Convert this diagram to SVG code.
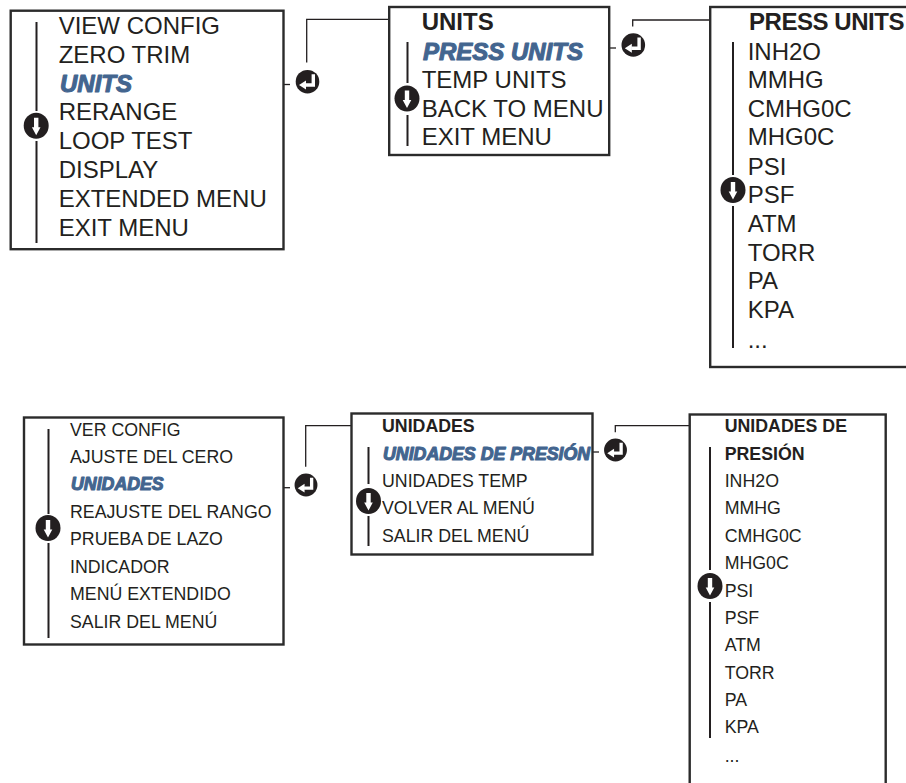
<svg xmlns="http://www.w3.org/2000/svg" width="906" height="783" viewBox="0 0 906 783">
<style>
text{font-family:"Liberation Sans",Arial,sans-serif;fill:#231f20}
.l{font-size:24px}
.s{font-size:17.75px}
.b{font-weight:bold}
.h{font-weight:bold;font-style:italic;fill:#43658f;stroke:#43658f;stroke-width:1.1px;stroke-linejoin:round}
.box{fill:#fff;stroke:#2b2b2b;stroke-width:2.4}
.ln{fill:none;stroke:#231f20;stroke-width:1.3}
.bar{fill:none;stroke:#231f20;stroke-width:2}
</style>
<defs>
<g id="enter"><circle r="11.8" fill="#231f20"/><path d="M5.800 -7.500V3.300H-2" fill="none" stroke="#fff" stroke-width="3.400"/><path d="M-8.500 3.300L-1.500 -1.200V7.800Z" fill="#fff"/></g>
<g id="down"><ellipse rx="12.500" ry="13" fill="#231f20"/><path d="M-2.200 -8H2.200V1.500H4.300L0 9.500L-4.300 1.500H-2.200Z" fill="#fff"/></g>
</defs>
<g id="connectors">
<path class="ln" d="M284 84.500H290"/><path class="ln" d="M306.700 62.500V19.400H389"/>
<path class="ln" d="M610 48H616"/><path class="ln" d="M632.700 26.500V20H710"/>
<path class="ln" d="M284 487.700H290"/><path class="ln" d="M305.700 466.700V425.700H351"/>
<path class="ln" d="M593 452H599"/><path class="ln" d="M615.300 432.300V425.700H690"/>
</g>
<g id="node-main-en">
<rect class="box" x="10.700" y="10.700" width="272.800" height="238.500"/>
<path class="bar" d="M36.500 22V111M36.500 141V243"/>
<use href="#down" x="36.200" y="125.700"/>
<text class="l" x="58.700" y="34">VIEW CONFIG</text>
<text class="l" x="58.700" y="63">ZERO TRIM</text>
<text class="l h" x="60" y="92">UNITS</text>
<text class="l" x="58.700" y="120">RERANGE</text>
<text class="l" x="58.700" y="149">LOOP TEST</text>
<text class="l" x="58.700" y="178">DISPLAY</text>
<text class="l" x="58.700" y="207">EXTENDED MENU</text>
<text class="l" x="58.700" y="236">EXIT MENU</text>
</g>
<g id="enter-1"><use href="#enter" x="307.500" y="81.700"/></g>
<g id="node-units-en">
<rect class="box" x="389.200" y="7" width="220" height="148"/>
<path class="bar" d="M407.500 42V83M407.500 115V146"/>
<use href="#down" x="407" y="98.500"/>
<text class="l b" x="421.700" y="30">UNITS</text>
<text class="l h" x="423" y="60">PRESS UNITS</text>
<text class="l" x="421.700" y="88">TEMP UNITS</text>
<text class="l" x="421.700" y="117">BACK TO MENU</text>
<text class="l" x="421.700" y="145">EXIT MENU</text>
</g>
<g id="enter-2"><use href="#enter" x="633.300" y="45"/></g>
<g id="node-press-en">
<rect class="box" x="710.200" y="7" width="230" height="360"/>
<path class="bar" d="M733 42V175M733 206V348"/>
<use href="#down" x="733" y="190"/>
<text class="l b" x="749" y="30" textLength="155.500" lengthAdjust="spacing">PRESS UNITS</text>
<text class="l" x="747.700" y="60">INH2O</text>
<text class="l" x="747.700" y="88">MMHG</text>
<text class="l" x="747.700" y="117">CMHG0C</text>
<text class="l" x="747.700" y="145">MHG0C</text>
<text class="l" x="747.700" y="175">PSI</text>
<text class="l" x="747.700" y="203">PSF</text>
<text class="l" x="747.700" y="232">ATM</text>
<text class="l" x="747.700" y="261">TORR</text>
<text class="l" x="747.700" y="289">PA</text>
<text class="l" x="747.700" y="318">KPA</text>
<text class="l" x="747.700" y="348">...</text>
</g>
<g id="node-main-es">
<rect class="box" x="24" y="417.500" width="259.500" height="227"/>
<path class="bar" d="M48.500 429V514M48.500 543V638"/>
<use href="#down" x="48" y="528"/>
<text class="s" x="70" y="436">VER CONFIG</text>
<text class="s" x="70" y="463">AJUSTE DEL CERO</text>
<text class="s h" x="71" y="490">UNIDADES</text>
<text class="s" x="70" y="518">REAJUSTE DEL RANGO</text>
<text class="s" x="70" y="545">PRUEBA DE LAZO</text>
<text class="s" x="70" y="573">INDICADOR</text>
<text class="s" x="70" y="600">MENÚ EXTENDIDO</text>
<text class="s" x="70" y="628">SALIR DEL MENÚ</text>
</g>
<g id="enter-3"><use href="#enter" transform="translate(306 485) scale(.97)"/></g>
<g id="node-units-es">
<rect class="box" x="351.500" y="413.500" width="241" height="141"/>
<path class="bar" d="M368.500 447V484M368.500 516V546"/>
<use href="#down" x="368.500" y="501"/>
<text class="s b" x="382" y="432">UNIDADES</text>
<text class="s h" x="383" y="460">UNIDADES DE PRESIÓN</text>
<text class="s" x="382" y="487">UNIDADES TEMP</text>
<text class="s" x="382" y="514">VOLVER AL MENÚ</text>
<text class="s" x="382" y="542">SALIR DEL MENÚ</text>
</g>
<g id="enter-4"><use href="#enter" transform="translate(615.500 450) scale(.97)"/></g>
<g id="node-press-es">
<rect class="box" x="689.700" y="414.500" width="196" height="380"/>
<path class="bar" d="M710 447V570M710 602V738"/>
<use href="#down" x="710" y="586"/>
<text class="s b" x="724.700" y="432">UNIDADES DE</text>
<text class="s b" x="724.700" y="460">PRESIÓN</text>
<text class="s" x="724.700" y="487">INH2O</text>
<text class="s" x="724.700" y="514">MMHG</text>
<text class="s" x="724.700" y="542">CMHG0C</text>
<text class="s" x="724.700" y="569">MHG0C</text>
<text class="s" x="724.700" y="597">PSI</text>
<text class="s" x="724.700" y="624">PSF</text>
<text class="s" x="724.700" y="651">ATM</text>
<text class="s" x="724.700" y="679">TORR</text>
<text class="s" x="724.700" y="706">PA</text>
<text class="s" x="724.700" y="733">KPA</text>
<text class="s" x="724.700" y="762">...</text>
</g>
</svg>
